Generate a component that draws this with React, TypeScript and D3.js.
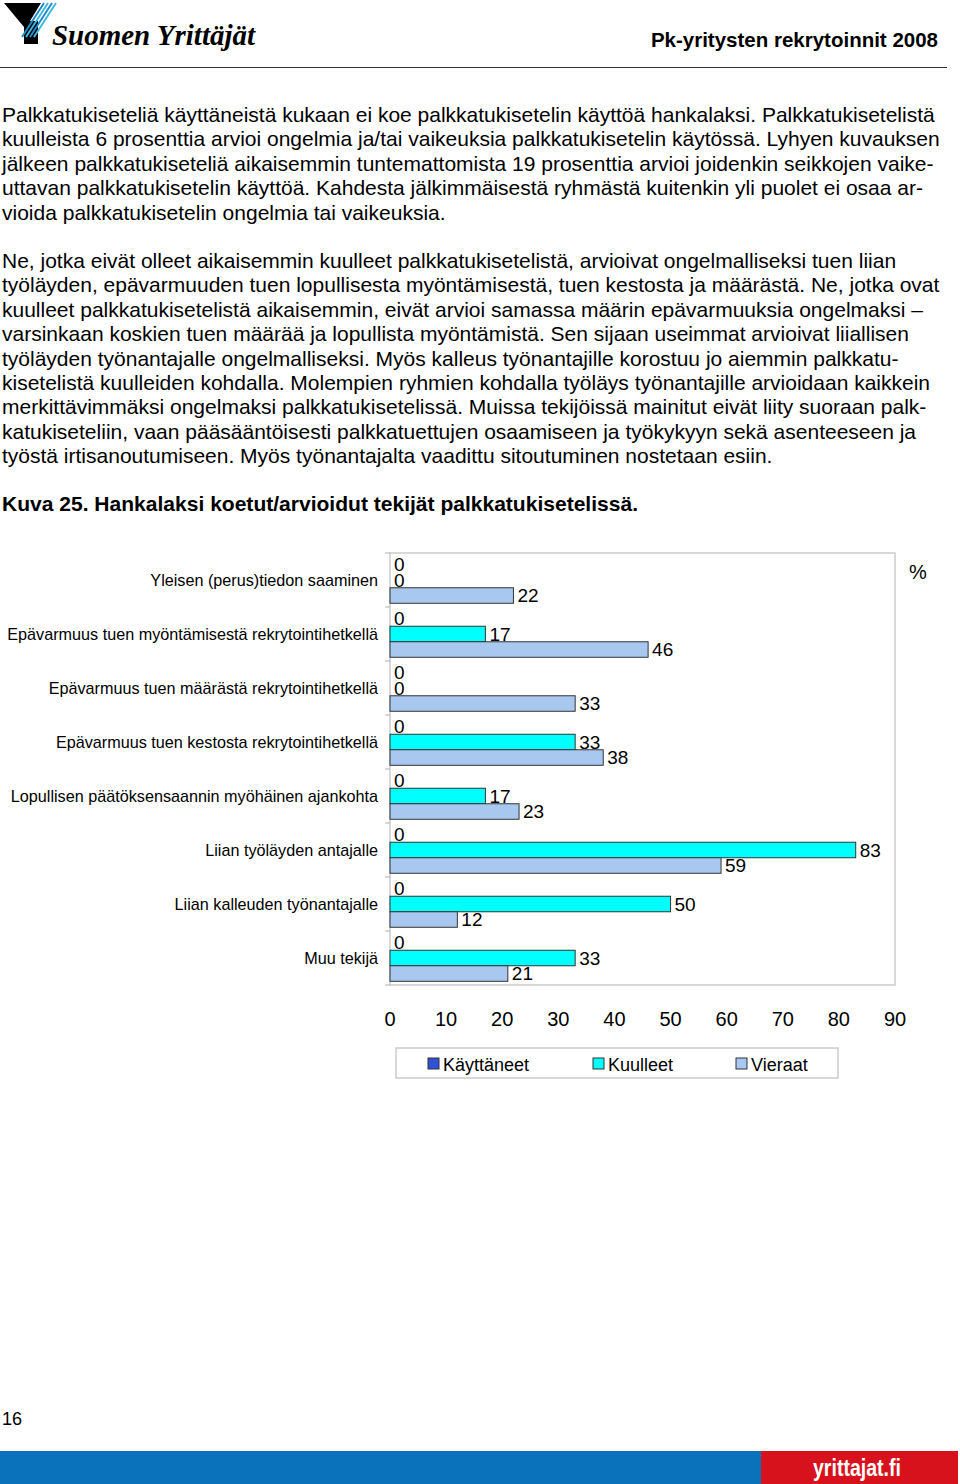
import { useEffect, useRef } from 'react';
import { scaleBand, scaleLinear, select } from 'd3';

const categories = [
  'Yleisen (perus)tiedon saaminen',
  'Epävarmuus tuen myöntämisestä rekrytointihetkellä',
  'Epävarmuus tuen määrästä rekrytointihetkellä',
  'Epävarmuus tuen kestosta rekrytointihetkellä',
  'Lopullisen päätöksensaannin myöhäinen ajankohta',
  'Liian työläyden antajalle',
  'Liian kalleuden työnantajalle',
  'Muu tekijä',
];
const seriesNames = ['Käyttäneet', 'Kuulleet', 'Vieraat'];
const kayttaneet = [0, 0, 0, 0, 0, 0, 0, 0];
const kuulleet = [0, 17, 0, 33, 17, 83, 50, 33];
const vieraat = [22, 46, 33, 38, 23, 59, 12, 21];
const xTicks = [0, 10, 20, 30, 40, 50, 60, 70, 80, 90];

const para1 = [
  'Palkkatukiseteliä käyttäneistä kukaan ei koe palkkatukisetelin käyttöä hankalaksi. Palkkatukisetelistä',
  'kuulleista 6 prosenttia arvioi ongelmia ja/tai vaikeuksia palkkatukisetelin käytössä. Lyhyen kuvauksen',
  'jälkeen palkkatukiseteliä aikaisemmin tuntemattomista 19 prosenttia arvioi joidenkin seikkojen vaike-',
  'uttavan palkkatukisetelin käyttöä. Kahdesta jälkimmäisestä ryhmästä kuitenkin yli puolet ei osaa ar-',
  'vioida palkkatukisetelin ongelmia tai vaikeuksia.',
];
const para2 = [
  'Ne, jotka eivät olleet aikaisemmin kuulleet palkkatukisetelistä, arvioivat ongelmalliseksi tuen liian',
  'työläyden, epävarmuuden tuen lopullisesta myöntämisestä, tuen kestosta ja määrästä. Ne, jotka ovat',
  'kuulleet palkkatukisetelistä aikaisemmin, eivät arvioi samassa määrin epävarmuuksia ongelmaksi –',
  'varsinkaan koskien tuen määrää ja lopullista myöntämistä. Sen sijaan useimmat arvioivat liiallisen',
  'työläyden työnantajalle ongelmalliseksi. Myös kalleus työnantajille korostuu jo aiemmin palkkatu-',
  'kisetelistä kuulleiden kohdalla. Molempien ryhmien kohdalla työläys työnantajille arvioidaan kaikkein',
  'merkittävimmäksi ongelmaksi palkkatukisetelissä. Muissa tekijöissä mainitut eivät liity suoraan palk-',
  'katukiseteliin, vaan pääsääntöisesti palkkatuettujen osaamiseen ja työkykyyn sekä asenteeseen ja',
  'työstä irtisanoutumiseen. Myös työnantajalta vaadittu sitoutuminen nostetaan esiin.',
];

const colors = ['#3050d8', '#00ffff', '#a8c8f0'];
const font = '"Liberation Sans", Arial, sans-serif';

export default function App() {
  const svgRef = useRef<SVGSVGElement>(null);

  useEffect(() => {
    document.body.style.margin = '0';
    document.body.style.overflow = 'hidden';

    const width = 960;
    const height = 1484;
    const svg = select(svgRef.current);
    svg.selectAll('*').remove();
    svg.attr('width', width).attr('height', height).style('display', 'block');

    svg.append('rect').attr('width', width).attr('height', height).attr('fill', '#fff');

    // header / logo
    const logo = svg.append('g');
    logo
      .append('path')
      .attr('d', 'M4,3 L41,3 L30,21 L38,21 L38,44 L24,44 L24,27 Z')
      .attr('fill', '#000');
    [0, 1, 2, 3].forEach((i) => {
      logo
        .append('line')
        .attr('x1', 44 + i * 4)
        .attr('y1', 3)
        .attr('x2', 22 + i * 4)
        .attr('y2', 37)
        .attr('stroke', i % 2 ? '#40b8e0' : '#1c8ccf')
        .attr('stroke-width', 2);
    });
    logo
      .append('text')
      .attr('x', 52)
      .attr('y', 45)
      .attr('font-family', '"Liberation Serif", "Times New Roman", serif')
      .attr('font-style', 'italic')
      .attr('font-weight', 'bold')
      .attr('font-size', 30)
      .attr('textLength', 203)
      .attr('lengthAdjust', 'spacingAndGlyphs')
      .text('Suomen Yrittäjät');

    svg
      .append('text')
      .attr('x', 938)
      .attr('y', 47)
      .attr('text-anchor', 'end')
      .attr('font-family', font)
      .attr('font-weight', 'bold')
      .attr('font-size', 20.5)
      .text('Pk-yritysten rekrytoinnit 2008');
    svg
      .append('line')
      .attr('x1', 0)
      .attr('x2', 947)
      .attr('y1', 67.5)
      .attr('y2', 67.5)
      .attr('stroke', '#333')
      .attr('stroke-width', 1.2);

    // body text
    const body = svg.append('g').attr('font-family', font).attr('font-size', 21).attr('fill', '#000');
    para1.forEach((line, i) => {
      body.append('text').attr('x', 2).attr('y', 122 + i * 24.4).text(line);
    });
    para2.forEach((line, i) => {
      body.append('text').attr('x', 2).attr('y', 268 + i * 24.4).text(line);
    });
    svg
      .append('text')
      .attr('x', 2)
      .attr('y', 511)
      .attr('font-family', '"Liberation Sans Narrow", "Liberation Sans", Arial, sans-serif')
      .attr('font-weight', 'bold')
      .attr('font-size', 21)
      .attr('textLength', 636)
      .attr('lengthAdjust', 'spacingAndGlyphs')
      .text('Kuva 25. Hankalaksi koetut/arvioidut tekijät palkkatukisetelissä.');

    // chart
    const x = scaleLinear().domain([0, 90]).range([390, 895]);
    const y = scaleBand<string>().domain(categories).range([553, 985]).padding(0);
    const ys = scaleBand<string>()
      .domain(seriesNames)
      .range([0, y.bandwidth()])
      .paddingInner(0)
      .paddingOuter(0.24);

    const chart = svg.append('g').attr('font-family', font);

    // plot frame
    chart
      .append('rect')
      .attr('x', x(0))
      .attr('y', 553)
      .attr('width', x(90) - x(0))
      .attr('height', 985 - 553)
      .attr('fill', 'none')
      .attr('stroke', '#c4c4c4')
      .attr('stroke-width', 1.3);

    // left axis ticks
    const bounds = categories.map((c) => y(c)!).concat([985]);
    chart
      .selectAll('line.ytick')
      .data(bounds)
      .enter()
      .append('line')
      .attr('class', 'ytick')
      .attr('x1', x(0) - 5)
      .attr('x2', x(0))
      .attr('y1', (d) => d)
      .attr('y2', (d) => d)
      .attr('stroke', '#b0b0b0');

    // category labels
    chart
      .selectAll('text.cat')
      .data(categories)
      .enter()
      .append('text')
      .attr('class', 'cat')
      .attr('x', 378)
      .attr('y', (d) => y(d)! + y.bandwidth() / 2 + 5.5)
      .attr('text-anchor', 'end')
      .attr('font-size', 16.2)
      .text((d) => d);

    const series = [kayttaneet, kuulleet, vieraat];
    series.forEach((vals, si) => {
      const name = seriesNames[si];
      const g = chart.append('g');
      const rows = vals.map((v, i) => ({ v, c: categories[i] }));
      g.selectAll('rect')
        .data(rows.filter((d) => d.v > 0))
        .enter()
        .append('rect')
        .attr('x', x(0))
        .attr('y', (d) => y(d.c)! + ys(name)!)
        .attr('width', (d) => x(d.v) - x(0))
        .attr('height', ys.bandwidth())
        .attr('fill', colors[si])
        .attr('stroke', '#333')
        .attr('stroke-width', 1);
      g.selectAll('text')
        .data(rows)
        .enter()
        .append('text')
        .attr('x', (d) => x(d.v) + 4)
        .attr('y', (d) => y(d.c)! + ys(name)! + ys.bandwidth() / 2 + 6.5)
        .attr('font-size', 19)
        .text((d) => d.v);
    });

    // x tick labels
    chart
      .selectAll('text.xtick')
      .data(xTicks)
      .enter()
      .append('text')
      .attr('class', 'xtick')
      .attr('x', (d) => x(d))
      .attr('y', 1026)
      .attr('text-anchor', 'middle')
      .attr('font-size', 20)
      .text((d) => d);

    chart
      .append('text')
      .attr('x', 918)
      .attr('y', 579)
      .attr('text-anchor', 'middle')
      .attr('font-size', 20)
      .text('%');

    // legend
    const legend = chart.append('g');
    legend
      .append('rect')
      .attr('x', 396)
      .attr('y', 1048)
      .attr('width', 442)
      .attr('height', 30)
      .attr('fill', '#fff')
      .attr('stroke', '#c4c4c4')
      .attr('stroke-width', 1.3);
    const legendX = [428, 593, 736];
    seriesNames.forEach((n, i) => {
      legend
        .append('rect')
        .attr('x', legendX[i])
        .attr('y', 1058)
        .attr('width', 11)
        .attr('height', 11)
        .attr('fill', colors[i])
        .attr('stroke', '#333');
      legend
        .append('text')
        .attr('x', legendX[i] + 15)
        .attr('y', 1071)
        .attr('font-size', 18)
        .text(n);
    });

    // footer
    svg.append('text').attr('x', 2).attr('y', 1425).attr('font-family', font).attr('font-size', 18).text('16');
    svg.append('rect').attr('x', 0).attr('y', 1451).attr('width', 761).attr('height', 33).attr('fill', '#0a72bb');
    svg.append('rect').attr('x', 761).attr('y', 1451).attr('width', 197).attr('height', 33).attr('fill', '#d8121d');
    svg
      .append('text')
      .attr('x', 857)
      .attr('y', 1476)
      .attr('text-anchor', 'middle')
      .attr('font-family', '"Liberation Sans Narrow", "Liberation Sans", Arial, sans-serif')
      .attr('font-weight', 'bold')
      .attr('font-size', 24)
      .attr('fill', '#fff')
      .attr('textLength', 88)
      .attr('lengthAdjust', 'spacingAndGlyphs')
      .text('yrittajat.fi');
  }, []);

  return (
    <div>
      <svg ref={svgRef}></svg>
    </div>
  );
}
